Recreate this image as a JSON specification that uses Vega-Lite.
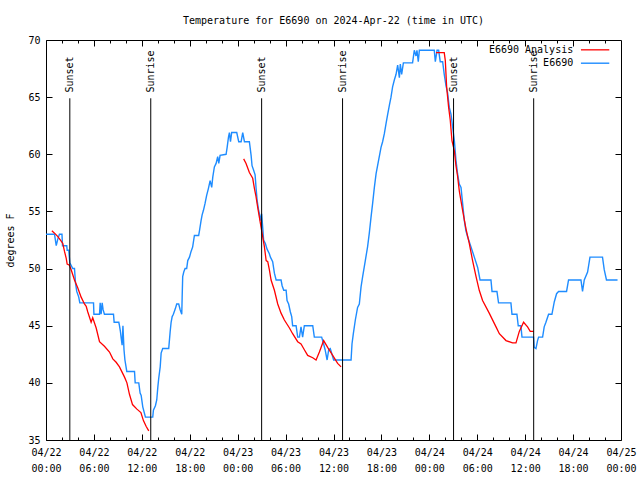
{
  "$schema": "https://vega.github.io/schema/vega-lite/v6.json",
  "autosize": {"type": "none"},
  "width": 575,
  "height": 400,
  "padding": {"left": 46, "top": 40, "right": 19, "bottom": 40},
  "background": "white",
  "title": {"text": "Temperature for E6690 on 2024-Apr-22 (time in UTC)", "font": "DejaVu Sans Mono", "fontSize": 10, "fontWeight": "normal", "color": "black", "anchor": "middle", "offset": 9},
  "config": {
    "font": "DejaVu Sans Mono",
    "view": {"stroke": "black", "strokeWidth": 1},
    "axis": {"domain": false, "grid": false, "labelFont": "DejaVu Sans Mono", "labelFontSize": 10, "labelColor": "black", "tickColor": "black", "titleFont": "DejaVu Sans Mono", "titleFontSize": 10, "titleFontWeight": "normal", "titleColor": "black"}
  },
  "resolve": {"axis": {"x": "independent", "y": "independent"}},
  "layer": [
    {
      "data": {"values": [
      {"time": "2024-04-22T00:00Z", "temp": 53.0},
      {"time": "2024-04-22T01:04Z", "temp": 53.0},
      {"time": "2024-04-22T01:17Z", "temp": 52.0},
      {"time": "2024-04-22T01:29Z", "temp": 52.6},
      {"time": "2024-04-22T01:41Z", "temp": 53.0},
      {"time": "2024-04-22T02:00Z", "temp": 53.0},
      {"time": "2024-04-22T02:04Z", "temp": 52.0},
      {"time": "2024-04-22T02:36Z", "temp": 52.0},
      {"time": "2024-04-22T02:39Z", "temp": 51.6},
      {"time": "2024-04-22T02:51Z", "temp": 51.6},
      {"time": "2024-04-22T02:59Z", "temp": 50.5},
      {"time": "2024-04-22T03:21Z", "temp": 50.0},
      {"time": "2024-04-22T03:34Z", "temp": 50.0},
      {"time": "2024-04-22T03:42Z", "temp": 48.7},
      {"time": "2024-04-22T03:51Z", "temp": 48.0},
      {"time": "2024-04-22T04:06Z", "temp": 47.5},
      {"time": "2024-04-22T04:14Z", "temp": 47.0},
      {"time": "2024-04-22T05:57Z", "temp": 47.0},
      {"time": "2024-04-22T06:00Z", "temp": 46.0},
      {"time": "2024-04-22T06:42Z", "temp": 46.0},
      {"time": "2024-04-22T06:47Z", "temp": 47.0},
      {"time": "2024-04-22T06:54Z", "temp": 46.0},
      {"time": "2024-04-22T07:02Z", "temp": 47.0},
      {"time": "2024-04-22T07:09Z", "temp": 46.4},
      {"time": "2024-04-22T07:19Z", "temp": 46.0},
      {"time": "2024-04-22T08:27Z", "temp": 46.0},
      {"time": "2024-04-22T08:32Z", "temp": 45.3},
      {"time": "2024-04-22T09:07Z", "temp": 45.3},
      {"time": "2024-04-22T09:12Z", "temp": 45.0},
      {"time": "2024-04-22T09:19Z", "temp": 44.5},
      {"time": "2024-04-22T09:25Z", "temp": 43.9},
      {"time": "2024-04-22T09:32Z", "temp": 43.3},
      {"time": "2024-04-22T09:38Z", "temp": 45.0},
      {"time": "2024-04-22T09:46Z", "temp": 42.9},
      {"time": "2024-04-22T09:53Z", "temp": 42.0},
      {"time": "2024-04-22T10:07Z", "temp": 41.0},
      {"time": "2024-04-22T11:05Z", "temp": 41.0},
      {"time": "2024-04-22T11:10Z", "temp": 40.0},
      {"time": "2024-04-22T11:37Z", "temp": 40.0},
      {"time": "2024-04-22T11:47Z", "temp": 39.1},
      {"time": "2024-04-22T11:55Z", "temp": 38.9},
      {"time": "2024-04-22T12:07Z", "temp": 37.9},
      {"time": "2024-04-22T12:27Z", "temp": 37.0},
      {"time": "2024-04-22T13:22Z", "temp": 37.0},
      {"time": "2024-04-22T13:27Z", "temp": 37.6},
      {"time": "2024-04-22T13:42Z", "temp": 38.0},
      {"time": "2024-04-22T13:52Z", "temp": 38.5},
      {"time": "2024-04-22T14:00Z", "temp": 39.6},
      {"time": "2024-04-22T14:07Z", "temp": 40.4},
      {"time": "2024-04-22T14:18Z", "temp": 41.4},
      {"time": "2024-04-22T14:25Z", "temp": 42.6},
      {"time": "2024-04-22T14:37Z", "temp": 43.0},
      {"time": "2024-04-22T15:22Z", "temp": 43.0},
      {"time": "2024-04-22T15:33Z", "temp": 44.5},
      {"time": "2024-04-22T15:40Z", "temp": 45.3},
      {"time": "2024-04-22T15:48Z", "temp": 45.8},
      {"time": "2024-04-22T15:57Z", "temp": 46.0},
      {"time": "2024-04-22T16:12Z", "temp": 46.5},
      {"time": "2024-04-22T16:22Z", "temp": 46.9},
      {"time": "2024-04-22T16:37Z", "temp": 46.9},
      {"time": "2024-04-22T16:48Z", "temp": 46.4},
      {"time": "2024-04-22T17:00Z", "temp": 46.0},
      {"time": "2024-04-22T17:03Z", "temp": 47.5},
      {"time": "2024-04-22T17:07Z", "temp": 49.3},
      {"time": "2024-04-22T17:15Z", "temp": 49.7},
      {"time": "2024-04-22T17:25Z", "temp": 50.0},
      {"time": "2024-04-22T17:37Z", "temp": 50.0},
      {"time": "2024-04-22T17:45Z", "temp": 50.7},
      {"time": "2024-04-22T17:58Z", "temp": 51.0},
      {"time": "2024-04-22T18:10Z", "temp": 51.5},
      {"time": "2024-04-22T18:22Z", "temp": 51.9},
      {"time": "2024-04-22T18:35Z", "temp": 52.9},
      {"time": "2024-04-22T19:07Z", "temp": 52.9},
      {"time": "2024-04-22T19:13Z", "temp": 53.3},
      {"time": "2024-04-22T19:25Z", "temp": 54.2},
      {"time": "2024-04-22T19:33Z", "temp": 54.7},
      {"time": "2024-04-22T19:43Z", "temp": 55.1},
      {"time": "2024-04-22T19:55Z", "temp": 55.7},
      {"time": "2024-04-22T20:07Z", "temp": 56.4},
      {"time": "2024-04-22T20:20Z", "temp": 57.0},
      {"time": "2024-04-22T20:33Z", "temp": 57.7},
      {"time": "2024-04-22T20:45Z", "temp": 57.1},
      {"time": "2024-04-22T20:53Z", "temp": 58.0},
      {"time": "2024-04-22T21:05Z", "temp": 58.9},
      {"time": "2024-04-22T21:18Z", "temp": 59.2},
      {"time": "2024-04-22T21:30Z", "temp": 59.8},
      {"time": "2024-04-22T21:38Z", "temp": 59.2},
      {"time": "2024-04-22T21:48Z", "temp": 59.9},
      {"time": "2024-04-22T22:33Z", "temp": 60.0},
      {"time": "2024-04-22T22:41Z", "temp": 60.6},
      {"time": "2024-04-22T22:51Z", "temp": 61.5},
      {"time": "2024-04-22T22:58Z", "temp": 61.9},
      {"time": "2024-04-22T23:06Z", "temp": 61.1},
      {"time": "2024-04-22T23:15Z", "temp": 61.9},
      {"time": "2024-04-22T23:53Z", "temp": 61.9},
      {"time": "2024-04-23T00:08Z", "temp": 61.1},
      {"time": "2024-04-23T00:26Z", "temp": 61.1},
      {"time": "2024-04-23T00:38Z", "temp": 61.9},
      {"time": "2024-04-23T00:51Z", "temp": 61.1},
      {"time": "2024-04-23T01:28Z", "temp": 61.1},
      {"time": "2024-04-23T01:41Z", "temp": 59.9},
      {"time": "2024-04-23T01:48Z", "temp": 59.0},
      {"time": "2024-04-23T02:00Z", "temp": 58.6},
      {"time": "2024-04-23T02:11Z", "temp": 58.2},
      {"time": "2024-04-23T02:18Z", "temp": 57.1},
      {"time": "2024-04-23T02:26Z", "temp": 56.0},
      {"time": "2024-04-23T02:36Z", "temp": 55.2},
      {"time": "2024-04-23T02:43Z", "temp": 54.8},
      {"time": "2024-04-23T02:51Z", "temp": 54.2},
      {"time": "2024-04-23T03:00Z", "temp": 54.8},
      {"time": "2024-04-23T03:08Z", "temp": 53.6},
      {"time": "2024-04-23T03:15Z", "temp": 52.5},
      {"time": "2024-04-23T03:28Z", "temp": 52.2},
      {"time": "2024-04-23T03:41Z", "temp": 51.7},
      {"time": "2024-04-23T03:58Z", "temp": 51.3},
      {"time": "2024-04-23T04:06Z", "temp": 51.0},
      {"time": "2024-04-23T04:23Z", "temp": 50.6},
      {"time": "2024-04-23T04:36Z", "temp": 49.6},
      {"time": "2024-04-23T04:49Z", "temp": 49.0},
      {"time": "2024-04-23T05:26Z", "temp": 49.0},
      {"time": "2024-04-23T05:34Z", "temp": 48.5},
      {"time": "2024-04-23T05:46Z", "temp": 48.1},
      {"time": "2024-04-23T06:04Z", "temp": 48.1},
      {"time": "2024-04-23T06:11Z", "temp": 47.2},
      {"time": "2024-04-23T06:23Z", "temp": 46.9},
      {"time": "2024-04-23T06:36Z", "temp": 46.2},
      {"time": "2024-04-23T06:46Z", "temp": 45.8},
      {"time": "2024-04-23T06:53Z", "temp": 45.0},
      {"time": "2024-04-23T07:19Z", "temp": 45.0},
      {"time": "2024-04-23T07:31Z", "temp": 44.0},
      {"time": "2024-04-23T07:44Z", "temp": 44.0},
      {"time": "2024-04-23T07:56Z", "temp": 44.9},
      {"time": "2024-04-23T08:08Z", "temp": 44.0},
      {"time": "2024-04-23T08:21Z", "temp": 45.0},
      {"time": "2024-04-23T09:24Z", "temp": 45.0},
      {"time": "2024-04-23T09:36Z", "temp": 44.0},
      {"time": "2024-04-23T10:31Z", "temp": 44.0},
      {"time": "2024-04-23T10:46Z", "temp": 43.4},
      {"time": "2024-04-23T10:57Z", "temp": 42.9},
      {"time": "2024-04-23T11:12Z", "temp": 42.0},
      {"time": "2024-04-23T11:24Z", "temp": 42.9},
      {"time": "2024-04-23T11:36Z", "temp": 43.0},
      {"time": "2024-04-23T11:46Z", "temp": 42.6},
      {"time": "2024-04-23T12:01Z", "temp": 42.0},
      {"time": "2024-04-23T14:12Z", "temp": 42.0},
      {"time": "2024-04-23T14:19Z", "temp": 43.4},
      {"time": "2024-04-23T14:29Z", "temp": 44.3},
      {"time": "2024-04-23T14:44Z", "temp": 45.5},
      {"time": "2024-04-23T15:01Z", "temp": 46.6},
      {"time": "2024-04-23T15:14Z", "temp": 46.9},
      {"time": "2024-04-23T15:27Z", "temp": 48.4},
      {"time": "2024-04-23T15:39Z", "temp": 49.3},
      {"time": "2024-04-23T15:59Z", "temp": 50.7},
      {"time": "2024-04-23T16:16Z", "temp": 51.9},
      {"time": "2024-04-23T16:29Z", "temp": 53.1},
      {"time": "2024-04-23T16:42Z", "temp": 54.5},
      {"time": "2024-04-23T16:54Z", "temp": 55.7},
      {"time": "2024-04-23T17:07Z", "temp": 57.1},
      {"time": "2024-04-23T17:20Z", "temp": 58.3},
      {"time": "2024-04-23T17:44Z", "temp": 59.8},
      {"time": "2024-04-23T17:57Z", "temp": 60.6},
      {"time": "2024-04-23T18:09Z", "temp": 61.1},
      {"time": "2024-04-23T18:22Z", "temp": 61.8},
      {"time": "2024-04-23T18:35Z", "temp": 62.7},
      {"time": "2024-04-23T18:47Z", "temp": 63.5},
      {"time": "2024-04-23T19:00Z", "temp": 64.3},
      {"time": "2024-04-23T19:12Z", "temp": 65.0},
      {"time": "2024-04-23T19:24Z", "temp": 65.9},
      {"time": "2024-04-23T19:37Z", "temp": 66.5},
      {"time": "2024-04-23T19:50Z", "temp": 67.0},
      {"time": "2024-04-23T20:02Z", "temp": 67.8},
      {"time": "2024-04-23T20:15Z", "temp": 66.7},
      {"time": "2024-04-23T20:22Z", "temp": 67.9},
      {"time": "2024-04-23T20:32Z", "temp": 67.0},
      {"time": "2024-04-23T20:45Z", "temp": 68.0},
      {"time": "2024-04-23T21:54Z", "temp": 68.0},
      {"time": "2024-04-23T22:07Z", "temp": 69.1},
      {"time": "2024-04-23T22:20Z", "temp": 68.6},
      {"time": "2024-04-23T22:27Z", "temp": 69.1},
      {"time": "2024-04-23T22:37Z", "temp": 68.1},
      {"time": "2024-04-23T22:45Z", "temp": 69.1},
      {"time": "2024-04-24T00:37Z", "temp": 69.1},
      {"time": "2024-04-24T00:45Z", "temp": 68.1},
      {"time": "2024-04-24T00:58Z", "temp": 69.1},
      {"time": "2024-04-24T01:10Z", "temp": 69.1},
      {"time": "2024-04-24T01:22Z", "temp": 68.1},
      {"time": "2024-04-24T01:40Z", "temp": 68.1},
      {"time": "2024-04-24T01:52Z", "temp": 67.0},
      {"time": "2024-04-24T02:05Z", "temp": 66.0},
      {"time": "2024-04-24T02:17Z", "temp": 65.4},
      {"time": "2024-04-24T02:30Z", "temp": 64.1},
      {"time": "2024-04-24T02:43Z", "temp": 63.5},
      {"time": "2024-04-24T02:55Z", "temp": 62.4},
      {"time": "2024-04-24T03:08Z", "temp": 61.2},
      {"time": "2024-04-24T03:20Z", "temp": 59.5},
      {"time": "2024-04-24T03:32Z", "temp": 58.3},
      {"time": "2024-04-24T03:45Z", "temp": 57.4},
      {"time": "2024-04-24T03:58Z", "temp": 57.1},
      {"time": "2024-04-24T04:10Z", "temp": 55.7},
      {"time": "2024-04-24T04:23Z", "temp": 54.2},
      {"time": "2024-04-24T04:35Z", "temp": 53.3},
      {"time": "2024-04-24T04:47Z", "temp": 52.8},
      {"time": "2024-04-24T05:13Z", "temp": 51.9},
      {"time": "2024-04-24T05:38Z", "temp": 51.0},
      {"time": "2024-04-24T06:03Z", "temp": 50.1},
      {"time": "2024-04-24T06:21Z", "temp": 49.0},
      {"time": "2024-04-24T07:43Z", "temp": 49.0},
      {"time": "2024-04-24T07:51Z", "temp": 48.0},
      {"time": "2024-04-24T08:28Z", "temp": 48.0},
      {"time": "2024-04-24T08:40Z", "temp": 47.0},
      {"time": "2024-04-24T10:13Z", "temp": 47.0},
      {"time": "2024-04-24T10:21Z", "temp": 46.0},
      {"time": "2024-04-24T10:58Z", "temp": 46.0},
      {"time": "2024-04-24T11:08Z", "temp": 45.0},
      {"time": "2024-04-24T11:28Z", "temp": 45.0},
      {"time": "2024-04-24T11:36Z", "temp": 44.0},
      {"time": "2024-04-24T13:03Z", "temp": 44.0},
      {"time": "2024-04-24T13:08Z", "temp": 43.1},
      {"time": "2024-04-24T13:21Z", "temp": 43.0},
      {"time": "2024-04-24T13:33Z", "temp": 43.7},
      {"time": "2024-04-24T13:41Z", "temp": 44.0},
      {"time": "2024-04-24T14:11Z", "temp": 44.0},
      {"time": "2024-04-24T14:23Z", "temp": 44.9},
      {"time": "2024-04-24T14:36Z", "temp": 45.3},
      {"time": "2024-04-24T14:56Z", "temp": 46.0},
      {"time": "2024-04-24T15:21Z", "temp": 46.0},
      {"time": "2024-04-24T15:39Z", "temp": 47.1},
      {"time": "2024-04-24T15:56Z", "temp": 47.8},
      {"time": "2024-04-24T16:11Z", "temp": 48.0},
      {"time": "2024-04-24T17:11Z", "temp": 48.0},
      {"time": "2024-04-24T17:26Z", "temp": 49.0},
      {"time": "2024-04-24T18:59Z", "temp": 49.0},
      {"time": "2024-04-24T19:11Z", "temp": 48.0},
      {"time": "2024-04-24T19:24Z", "temp": 49.0},
      {"time": "2024-04-24T19:49Z", "temp": 49.7},
      {"time": "2024-04-24T20:07Z", "temp": 51.0},
      {"time": "2024-04-24T21:41Z", "temp": 51.0},
      {"time": "2024-04-24T21:54Z", "temp": 49.9},
      {"time": "2024-04-24T22:11Z", "temp": 49.0},
      {"time": "2024-04-24T23:34Z", "temp": 49.0}
      ], "format": {"parse": {"time": "utc:'%Y-%m-%dT%H:%MZ'"}}},
      "mark": {"type": "line", "color": "#1e8cff", "strokeWidth": 1.4},
      "encoding": {
        "x": {
          "field": "time", "type": "temporal",
          "scale": {"type": "utc", "nice": false, "domain": [{"year": 2024, "month": 4, "date": 22, "hours": 0, "utc": true}, {"year": 2024, "month": 4, "date": 25, "hours": 0, "utc": true}]},
          "axis": {
            "orient": "bottom", "title": null,
            "values": [
              {"year": 2024, "month": 4, "date": 22, "hours": 0, "utc": true},
              {"year": 2024, "month": 4, "date": 22, "hours": 6, "utc": true},
              {"year": 2024, "month": 4, "date": 22, "hours": 12, "utc": true},
              {"year": 2024, "month": 4, "date": 22, "hours": 18, "utc": true},
              {"year": 2024, "month": 4, "date": 23, "hours": 0, "utc": true},
              {"year": 2024, "month": 4, "date": 23, "hours": 6, "utc": true},
              {"year": 2024, "month": 4, "date": 23, "hours": 12, "utc": true},
              {"year": 2024, "month": 4, "date": 23, "hours": 18, "utc": true},
              {"year": 2024, "month": 4, "date": 24, "hours": 0, "utc": true},
              {"year": 2024, "month": 4, "date": 24, "hours": 6, "utc": true},
              {"year": 2024, "month": 4, "date": 24, "hours": 12, "utc": true},
              {"year": 2024, "month": 4, "date": 24, "hours": 18, "utc": true},
              {"year": 2024, "month": 4, "date": 25, "hours": 0, "utc": true}
            ],
            "tickSize": -6,
            "labelExpr": "[utcFormat(datum.value, '%m/%d'), utcFormat(datum.value, '%H:%M')]",
            "labelOverlap": false, "labelFlush": false, "labelBound": false,
            "labelPadding": 13, "labelLineHeight": 16
          }
        },
        "y": {
          "field": "temp", "type": "quantitative",
          "scale": {"domain": [35, 70], "nice": false, "zero": false},
          "axis": {"orient": "left", "title": "degrees F", "values": [35, 40, 45, 50, 55, 60, 65, 70], "tickSize": -6, "labelPadding": 12, "format": "d", "titlePadding": 12}
        }
      }
    },
    {
      "data": {"values": [
      {"seg": 1, "time": "2024-04-22T00:44Z", "temp": 53.3},
      {"seg": 1, "time": "2024-04-22T01:04Z", "temp": 53.1},
      {"seg": 1, "time": "2024-04-22T01:29Z", "temp": 52.8},
      {"seg": 1, "time": "2024-04-22T01:54Z", "temp": 52.4},
      {"seg": 1, "time": "2024-04-22T02:06Z", "temp": 52.2},
      {"seg": 1, "time": "2024-04-22T02:19Z", "temp": 51.5},
      {"seg": 1, "time": "2024-04-22T02:32Z", "temp": 50.9},
      {"seg": 1, "time": "2024-04-22T02:39Z", "temp": 50.4},
      {"seg": 1, "time": "2024-04-22T02:56Z", "temp": 50.3},
      {"seg": 1, "time": "2024-04-22T03:09Z", "temp": 49.9},
      {"seg": 1, "time": "2024-04-22T03:34Z", "temp": 49.0},
      {"seg": 1, "time": "2024-04-22T03:59Z", "temp": 48.3},
      {"seg": 1, "time": "2024-04-22T04:24Z", "temp": 47.5},
      {"seg": 1, "time": "2024-04-22T04:49Z", "temp": 46.9},
      {"seg": 1, "time": "2024-04-22T05:02Z", "temp": 46.7},
      {"seg": 1, "time": "2024-04-22T05:14Z", "temp": 46.2},
      {"seg": 1, "time": "2024-04-22T05:39Z", "temp": 45.3},
      {"seg": 1, "time": "2024-04-22T05:51Z", "temp": 45.7},
      {"seg": 1, "time": "2024-04-22T06:17Z", "temp": 44.8},
      {"seg": 1, "time": "2024-04-22T06:42Z", "temp": 43.6},
      {"seg": 1, "time": "2024-04-22T07:19Z", "temp": 43.2},
      {"seg": 1, "time": "2024-04-22T07:57Z", "temp": 42.7},
      {"seg": 1, "time": "2024-04-22T08:22Z", "temp": 42.1},
      {"seg": 1, "time": "2024-04-22T08:47Z", "temp": 41.8},
      {"seg": 1, "time": "2024-04-22T09:12Z", "temp": 41.4},
      {"seg": 1, "time": "2024-04-22T09:50Z", "temp": 40.5},
      {"seg": 1, "time": "2024-04-22T10:08Z", "temp": 40.0},
      {"seg": 1, "time": "2024-04-22T10:27Z", "temp": 39.0},
      {"seg": 1, "time": "2024-04-22T10:50Z", "temp": 38.1},
      {"seg": 1, "time": "2024-04-22T11:23Z", "temp": 37.7},
      {"seg": 1, "time": "2024-04-22T11:53Z", "temp": 37.4},
      {"seg": 1, "time": "2024-04-22T12:12Z", "temp": 36.7},
      {"seg": 1, "time": "2024-04-22T12:32Z", "temp": 36.2},
      {"seg": 1, "time": "2024-04-22T12:52Z", "temp": 35.8},
      {"seg": 2, "time": "2024-04-23T00:45Z", "temp": 59.6},
      {"seg": 2, "time": "2024-04-23T01:03Z", "temp": 59.2},
      {"seg": 2, "time": "2024-04-23T01:28Z", "temp": 58.4},
      {"seg": 2, "time": "2024-04-23T01:53Z", "temp": 57.9},
      {"seg": 2, "time": "2024-04-23T02:06Z", "temp": 57.0},
      {"seg": 2, "time": "2024-04-23T02:18Z", "temp": 56.3},
      {"seg": 2, "time": "2024-04-23T02:30Z", "temp": 55.4},
      {"seg": 2, "time": "2024-04-23T02:43Z", "temp": 54.5},
      {"seg": 2, "time": "2024-04-23T02:56Z", "temp": 53.6},
      {"seg": 2, "time": "2024-04-23T03:08Z", "temp": 52.8},
      {"seg": 2, "time": "2024-04-23T03:21Z", "temp": 51.9},
      {"seg": 2, "time": "2024-04-23T03:34Z", "temp": 50.7},
      {"seg": 2, "time": "2024-04-23T03:46Z", "temp": 50.6},
      {"seg": 2, "time": "2024-04-23T03:58Z", "temp": 49.9},
      {"seg": 2, "time": "2024-04-23T04:11Z", "temp": 49.0},
      {"seg": 2, "time": "2024-04-23T04:36Z", "temp": 48.1},
      {"seg": 2, "time": "2024-04-23T05:01Z", "temp": 46.9},
      {"seg": 2, "time": "2024-04-23T05:26Z", "temp": 46.1},
      {"seg": 2, "time": "2024-04-23T05:51Z", "temp": 45.5},
      {"seg": 2, "time": "2024-04-23T06:29Z", "temp": 44.8},
      {"seg": 2, "time": "2024-04-23T06:53Z", "temp": 44.3},
      {"seg": 2, "time": "2024-04-23T07:31Z", "temp": 43.6},
      {"seg": 2, "time": "2024-04-23T07:56Z", "temp": 43.4},
      {"seg": 2, "time": "2024-04-23T08:21Z", "temp": 42.9},
      {"seg": 2, "time": "2024-04-23T08:46Z", "temp": 42.4},
      {"seg": 2, "time": "2024-04-23T09:24Z", "temp": 42.2},
      {"seg": 2, "time": "2024-04-23T09:49Z", "temp": 42.0},
      {"seg": 2, "time": "2024-04-23T10:14Z", "temp": 42.7},
      {"seg": 2, "time": "2024-04-23T10:46Z", "temp": 43.7},
      {"seg": 2, "time": "2024-04-23T11:16Z", "temp": 43.1},
      {"seg": 2, "time": "2024-04-23T11:54Z", "temp": 42.4},
      {"seg": 2, "time": "2024-04-23T12:31Z", "temp": 41.7},
      {"seg": 2, "time": "2024-04-23T12:57Z", "temp": 41.4},
      {"seg": 3, "time": "2024-04-24T00:50Z", "temp": 68.9},
      {"seg": 3, "time": "2024-04-24T01:52Z", "temp": 68.9},
      {"seg": 3, "time": "2024-04-24T02:00Z", "temp": 68.2},
      {"seg": 3, "time": "2024-04-24T02:10Z", "temp": 65.9},
      {"seg": 3, "time": "2024-04-24T02:25Z", "temp": 64.1},
      {"seg": 3, "time": "2024-04-24T02:37Z", "temp": 63.0},
      {"seg": 3, "time": "2024-04-24T02:50Z", "temp": 61.2},
      {"seg": 3, "time": "2024-04-24T03:08Z", "temp": 60.3},
      {"seg": 3, "time": "2024-04-24T03:20Z", "temp": 59.0},
      {"seg": 3, "time": "2024-04-24T03:32Z", "temp": 58.1},
      {"seg": 3, "time": "2024-04-24T03:45Z", "temp": 56.8},
      {"seg": 3, "time": "2024-04-24T04:10Z", "temp": 55.1},
      {"seg": 3, "time": "2024-04-24T04:35Z", "temp": 53.5},
      {"seg": 3, "time": "2024-04-24T05:00Z", "temp": 52.2},
      {"seg": 3, "time": "2024-04-24T05:25Z", "temp": 50.7},
      {"seg": 3, "time": "2024-04-24T05:51Z", "temp": 49.3},
      {"seg": 3, "time": "2024-04-24T06:15Z", "temp": 48.1},
      {"seg": 3, "time": "2024-04-24T06:40Z", "temp": 47.2},
      {"seg": 3, "time": "2024-04-24T07:30Z", "temp": 46.1},
      {"seg": 3, "time": "2024-04-24T08:21Z", "temp": 44.9},
      {"seg": 3, "time": "2024-04-24T08:46Z", "temp": 44.3},
      {"seg": 3, "time": "2024-04-24T09:36Z", "temp": 43.7},
      {"seg": 3, "time": "2024-04-24T10:25Z", "temp": 43.5},
      {"seg": 3, "time": "2024-04-24T10:51Z", "temp": 43.5},
      {"seg": 3, "time": "2024-04-24T11:16Z", "temp": 44.5},
      {"seg": 3, "time": "2024-04-24T11:48Z", "temp": 45.3},
      {"seg": 3, "time": "2024-04-24T12:18Z", "temp": 44.9},
      {"seg": 3, "time": "2024-04-24T12:38Z", "temp": 44.5},
      {"seg": 3, "time": "2024-04-24T13:03Z", "temp": 44.5}
      ], "format": {"parse": {"time": "utc:'%Y-%m-%dT%H:%MZ'"}}},
      "mark": {"type": "line", "color": "#ff0000", "strokeWidth": 1.3},
      "encoding": {
        "x": {
          "field": "time", "type": "temporal",
          "axis": {
            "orient": "top", "title": null, "labels": false, "tickSize": -6,
            "values": [
              {"year": 2024, "month": 4, "date": 22, "hours": 6, "utc": true},
              {"year": 2024, "month": 4, "date": 22, "hours": 12, "utc": true},
              {"year": 2024, "month": 4, "date": 22, "hours": 18, "utc": true},
              {"year": 2024, "month": 4, "date": 23, "hours": 0, "utc": true},
              {"year": 2024, "month": 4, "date": 23, "hours": 6, "utc": true},
              {"year": 2024, "month": 4, "date": 23, "hours": 12, "utc": true},
              {"year": 2024, "month": 4, "date": 23, "hours": 18, "utc": true},
              {"year": 2024, "month": 4, "date": 24, "hours": 0, "utc": true},
              {"year": 2024, "month": 4, "date": 24, "hours": 6, "utc": true},
              {"year": 2024, "month": 4, "date": 24, "hours": 12, "utc": true},
              {"year": 2024, "month": 4, "date": 24, "hours": 18, "utc": true}
            ]
          }
        },
        "y": {
          "field": "temp", "type": "quantitative",
          "axis": {"orient": "right", "title": null, "labels": false, "values": [40, 45, 50, 55, 60, 65], "tickSize": -6}
        },
        "detail": {"field": "seg"}
      }
    },
    {
      "data": {"values": [
        {"time": "2024-04-22T02:59Z", "label": "Sunset"},
        {"time": "2024-04-22T13:07Z", "label": "Sunrise"},
        {"time": "2024-04-23T03:00Z", "label": "Sunset"},
        {"time": "2024-04-23T13:08Z", "label": "Sunrise"},
        {"time": "2024-04-24T03:02Z", "label": "Sunset"},
        {"time": "2024-04-24T13:04Z", "label": "Sunrise"}
      ], "format": {"parse": {"time": "utc:'%Y-%m-%dT%H:%MZ'"}}},
      "resolve": {"axis": {"x": "independent"}},
      "layer": [
        {
          "mark": {"type": "rule", "color": "black", "strokeWidth": 1},
          "encoding": {
            "x": {
              "field": "time", "type": "temporal",
              "axis": {
                "orient": "bottom", "title": null, "labels": false, "tickSize": -3,
                "values": [
                  {"year": 2024, "month": 4, "date": 22, "hours": 2, "utc": true},
                  {"year": 2024, "month": 4, "date": 22, "hours": 4, "utc": true},
                  {"year": 2024, "month": 4, "date": 22, "hours": 8, "utc": true},
                  {"year": 2024, "month": 4, "date": 22, "hours": 10, "utc": true},
                  {"year": 2024, "month": 4, "date": 22, "hours": 14, "utc": true},
                  {"year": 2024, "month": 4, "date": 22, "hours": 16, "utc": true},
                  {"year": 2024, "month": 4, "date": 22, "hours": 20, "utc": true},
                  {"year": 2024, "month": 4, "date": 22, "hours": 22, "utc": true},
                  {"year": 2024, "month": 4, "date": 23, "hours": 2, "utc": true},
                  {"year": 2024, "month": 4, "date": 23, "hours": 4, "utc": true},
                  {"year": 2024, "month": 4, "date": 23, "hours": 8, "utc": true},
                  {"year": 2024, "month": 4, "date": 23, "hours": 10, "utc": true},
                  {"year": 2024, "month": 4, "date": 23, "hours": 14, "utc": true},
                  {"year": 2024, "month": 4, "date": 23, "hours": 16, "utc": true},
                  {"year": 2024, "month": 4, "date": 23, "hours": 20, "utc": true},
                  {"year": 2024, "month": 4, "date": 23, "hours": 22, "utc": true},
                  {"year": 2024, "month": 4, "date": 24, "hours": 2, "utc": true},
                  {"year": 2024, "month": 4, "date": 24, "hours": 4, "utc": true},
                  {"year": 2024, "month": 4, "date": 24, "hours": 8, "utc": true},
                  {"year": 2024, "month": 4, "date": 24, "hours": 10, "utc": true},
                  {"year": 2024, "month": 4, "date": 24, "hours": 14, "utc": true},
                  {"year": 2024, "month": 4, "date": 24, "hours": 16, "utc": true},
                  {"year": 2024, "month": 4, "date": 24, "hours": 20, "utc": true},
                  {"year": 2024, "month": 4, "date": 24, "hours": 22, "utc": true}
                ]
              }
            },
            "y": {"datum": 35, "type": "quantitative", "axis": null},
            "y2": {"datum": 64.9}
          }
        },
        {
          "mark": {"type": "text", "angle": 270, "align": "left", "baseline": "middle", "font": "DejaVu Sans Mono", "fontSize": 10, "color": "black"},
          "encoding": {
            "x": {
              "field": "time", "type": "temporal",
              "axis": {
                "orient": "top", "title": null, "labels": false, "tickSize": -3,
                "values": [
                  {"year": 2024, "month": 4, "date": 22, "hours": 2, "utc": true},
                  {"year": 2024, "month": 4, "date": 22, "hours": 4, "utc": true},
                  {"year": 2024, "month": 4, "date": 22, "hours": 8, "utc": true},
                  {"year": 2024, "month": 4, "date": 22, "hours": 10, "utc": true},
                  {"year": 2024, "month": 4, "date": 22, "hours": 14, "utc": true},
                  {"year": 2024, "month": 4, "date": 22, "hours": 16, "utc": true},
                  {"year": 2024, "month": 4, "date": 22, "hours": 20, "utc": true},
                  {"year": 2024, "month": 4, "date": 22, "hours": 22, "utc": true},
                  {"year": 2024, "month": 4, "date": 23, "hours": 2, "utc": true},
                  {"year": 2024, "month": 4, "date": 23, "hours": 4, "utc": true},
                  {"year": 2024, "month": 4, "date": 23, "hours": 8, "utc": true},
                  {"year": 2024, "month": 4, "date": 23, "hours": 10, "utc": true},
                  {"year": 2024, "month": 4, "date": 23, "hours": 14, "utc": true},
                  {"year": 2024, "month": 4, "date": 23, "hours": 16, "utc": true},
                  {"year": 2024, "month": 4, "date": 23, "hours": 20, "utc": true},
                  {"year": 2024, "month": 4, "date": 23, "hours": 22, "utc": true},
                  {"year": 2024, "month": 4, "date": 24, "hours": 2, "utc": true},
                  {"year": 2024, "month": 4, "date": 24, "hours": 4, "utc": true},
                  {"year": 2024, "month": 4, "date": 24, "hours": 8, "utc": true},
                  {"year": 2024, "month": 4, "date": 24, "hours": 10, "utc": true},
                  {"year": 2024, "month": 4, "date": 24, "hours": 14, "utc": true},
                  {"year": 2024, "month": 4, "date": 24, "hours": 16, "utc": true},
                  {"year": 2024, "month": 4, "date": 24, "hours": 20, "utc": true},
                  {"year": 2024, "month": 4, "date": 24, "hours": 22, "utc": true}
                ]
              }
            },
            "y": {"datum": 65.4, "type": "quantitative", "axis": null},
            "text": {"field": "label"}
          }
        }
      ]
    },
    {
      "data": {"values": [{"series": "E6690 Analysis"}]},
      "mark": {"type": "text", "align": "right", "baseline": "middle", "font": "DejaVu Sans Mono", "fontSize": 10, "color": "black"},
      "encoding": {
        "x": {"datum": {"year": 2024, "month": 4, "date": 24, "hours": 18, "minutes": 1, "utc": true}, "type": "temporal", "axis": null},
        "y": {"datum": 69.14, "type": "quantitative", "axis": null},
        "text": {"field": "series"}
      }
    },
    {
      "data": {"values": [{"series": "E6690 Analysis"}]},
      "mark": {"type": "rule", "color": "#ff0000", "strokeWidth": 1.3},
      "encoding": {
        "x": {"datum": {"year": 2024, "month": 4, "date": 24, "hours": 18, "minutes": 59, "utc": true}, "type": "temporal", "axis": null},
        "x2": {"datum": {"year": 2024, "month": 4, "date": 24, "hours": 22, "minutes": 32, "utc": true}},
        "y": {"datum": 69.14, "type": "quantitative", "axis": null}
      }
    },
    {
      "data": {"values": [{"series": "E6690"}]},
      "mark": {"type": "text", "align": "right", "baseline": "middle", "font": "DejaVu Sans Mono", "fontSize": 10, "color": "black"},
      "encoding": {
        "x": {"datum": {"year": 2024, "month": 4, "date": 24, "hours": 18, "minutes": 1, "utc": true}, "type": "temporal", "axis": null},
        "y": {"datum": 67.97, "type": "quantitative", "axis": null},
        "text": {"field": "series"}
      }
    },
    {
      "data": {"values": [{"series": "E6690"}]},
      "mark": {"type": "rule", "color": "#1e8cff", "strokeWidth": 1.4},
      "encoding": {
        "x": {"datum": {"year": 2024, "month": 4, "date": 24, "hours": 18, "minutes": 59, "utc": true}, "type": "temporal", "axis": null},
        "x2": {"datum": {"year": 2024, "month": 4, "date": 24, "hours": 22, "minutes": 32, "utc": true}},
        "y": {"datum": 67.97, "type": "quantitative", "axis": null}
      }
    }
  ]
}
